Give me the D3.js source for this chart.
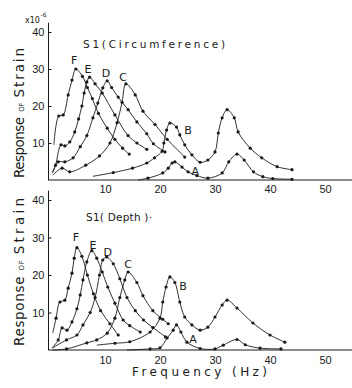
<!DOCTYPE html>
<html>
<head>
<meta charset="utf-8">
<script src="https://cdn.jsdelivr.net/npm/d3@7"></script>
<style>
  body { margin: 0; background: #fff; }
  svg { display: block; font-family: 'DejaVu Sans', sans-serif; }
</style>
</head>
<body>
<div id="chart"></div>
<script>
// [frequency Hz, strain x10^-6]
// S1 (Circumference)
const circA = [[16, 0], [17.8, 0.5], [20.5, 1.9], [21.5, 3.2], [22.2, 4.6], [22.7, 4.9], [24, 3.5], [25.1, 2.2], [26.7, 1.2], [28.7, 0.5], [31.3, 1.9], [32.5, 4.9], [34, 7], [35.3, 5.4], [37, 2.2], [38.7, 0.9], [40.5, 0.4], [44, 0.2]];
const circB = [[7.8, 1], [11.5, 2], [15, 3.2], [17.6, 4.6], [19, 6], [20.4, 7.8], [20.7, 10], [21.2, 13.5], [21.8, 15.4], [23, 14.3], [23.6, 12.2], [24.5, 9.5], [25.8, 6.8], [27.3, 4.8], [28.7, 5.4], [30, 7.6], [30.6, 12.7], [31.3, 16.8], [32.2, 19], [33.5, 16.8], [34.2, 13], [36.4, 8.6], [38.5, 6], [41.3, 3.6], [44, 2.8]];
const circC = [[0.5, 1.3], [2.2, 3.2], [3.6, 2.2], [6.5, 4], [9, 6.5], [10.9, 10], [12.2, 15.5], [13.1, 21], [13.8, 26], [15.5, 23], [16.9, 18.6], [19.1, 15], [21.3, 11], [24.5, 6.2]];
const circD = [[0.5, 2], [1.5, 4.9], [2.7, 4.9], [4.2, 6], [5.5, 9], [6.7, 12], [7.8, 16.8], [8.7, 20.8], [9.6, 24.9], [10.4, 26.8], [11.2, 25], [12.4, 22.4], [14.2, 19], [15.8, 15.7], [17.6, 12.5], [18.8, 9.8], [20.9, 7.6]];
const circE = [[0.4, 2], [1, 4], [2, 9.5], [2.7, 9.2], [3.6, 10.3], [4.5, 13], [5.2, 16.5], [5.8, 20], [6.2, 23.5], [6.7, 26.5], [7.2, 27.8], [8.2, 26], [9.5, 23.5], [11.8, 17.6], [14.2, 12], [15.8, 10], [17.6, 8.3]];
const circF = [[0.7, 9.5], [1.6, 17.3], [2.4, 17.6], [3.3, 23], [4, 27], [4.7, 30], [5.9, 28], [6.8, 25], [7.7, 22], [8.8, 18], [10.4, 14], [11.8, 11], [13.2, 8.6], [14.4, 7]];

// S1 (Depth)
const depthA = [[14, 0], [18.2, 0.3], [20, 0.6], [21.3, 3.2], [22.4, 5.3], [23, 6.7], [23.8, 4.8], [24.9, 2.1], [27.3, 0.4], [30, 0.3], [31.5, 1.3], [34, 2.8], [35.5, 1.4], [38.2, 0.5], [42, 0.3]];
const depthB = [[8.5, 1.3], [11.8, 1.8], [14.5, 2.2], [18.2, 4.8], [20, 8.5], [20.5, 12.8], [21.1, 16.8], [21.8, 19.5], [22.7, 18], [23.6, 12.8], [24.5, 8.8], [25.8, 6.7], [27.3, 5.3], [28.7, 6.1], [30, 8.8], [31.3, 12], [32.2, 13.3], [34, 11.2], [36.9, 7.2], [40, 4], [42.7, 2.1]];
const depthC = [[0.5, 0], [3, 0.3], [6.7, 1.9], [8.5, 2.7], [10.4, 4.5], [11.8, 8.5], [12.7, 14], [13.6, 18.7], [14.2, 20.8], [15.8, 18], [16.9, 14.5], [18.7, 10.5], [20.5, 8.2], [21.5, 7]];
const depthD = [[0.4, 0.5], [3, 2.7], [4.9, 4], [6, 6.7], [7.3, 10], [8.2, 14], [9, 20], [9.6, 24], [10.3, 24.8], [11.5, 23], [12.7, 19], [14, 14], [15.5, 10.5], [17, 8], [18.7, 6], [21, 3.5]];
const depthE = [[0.4, 0.5], [1.5, 2.7], [2.2, 5.9], [3.1, 5.3], [4, 7.5], [4.9, 11], [5.5, 14.7], [6, 18.7], [6.7, 23.5], [7.6, 26.5], [8.5, 24.5], [9.5, 20.8], [10.5, 16.8], [11.8, 12.5], [13.3, 8], [14.5, 6.5], [16.4, 4.8]];
const depthF = [[0.5, 4.5], [1.1, 8.5], [1.8, 12.8], [2.7, 13.3], [3.3, 16.5], [4, 20.5], [4.4, 24.5], [4.9, 27.3], [5.8, 25], [6.8, 20], [7.9, 15], [9.2, 10.5], [10.9, 7], [12.4, 4]];

const curveNames = ['A', 'B', 'C', 'D', 'E', 'F'];
const xTicks = [10, 20, 30, 40, 50];
const yTicks = [10, 20, 30, 40];

const panels = [
  {
    title: 'S1(Circumference)',
    series: [circA, circB, circC, circD, circE, circF],
    range: [180, 32],
    // label anchors in data units [Hz, strain]
    labelAt: [[26.4, 2.2], [25.1, 13.5], [13.3, 27.8], [10.2, 28.9], [6.9, 30], [4.4, 32.2]],
    titleBox: [83, 48, 142],
    yLabel: [178, 48],
  },
  {
    title: 'S1( Depth )\u00b7',
    series: [depthA, depthB, depthC, depthD, depthE, depthF],
    range: [350, 200],
    labelAt: [[26, 2.9], [24.2, 17], [14.2, 22.7], [10.5, 26.1], [7.8, 28], [4.7, 29.9]],
    titleBox: [86, 221, 66],
    yLabel: [346, 198],
  },
];

const width = 352;
const height = 388;
const ink = '#1a1a1a';

const svg = d3
  .select('#chart')
  .append('svg')
  .attr('width', width)
  .attr('height', height);

const x = d3.scaleLinear().domain([0, 50]).range([50, 325]);

panels.forEach((p, i) => {
  const y = d3.scaleLinear().domain([0, 40]).range(p.range);
  const g = svg.append('g');

  // axes lines (the scan has no frame, just the two lines)
  g.append('line')
    .attr('x1', 48).attr('x2', width)
    .attr('y1', y(0)).attr('y2', y(0))
    .attr('stroke', ink).attr('stroke-width', 1);
  g.append('line')
    .attr('x1', 48.5).attr('x2', 48.5)
    .attr('y1', y(0)).attr('y2', y(42.5))
    .attr('stroke', ink).attr('stroke-width', 1);

  const xAxis = g
    .append('g')
    .attr('transform', `translate(0,${y(0)})`)
    .call(d3.axisBottom(x).tickValues(xTicks).tickSize(0).tickPadding(i === 0 ? 5 : 6));
  xAxis.select('.domain').remove();
  xAxis.selectAll('text')
    .style('font-size', '11px')
    .attr('fill', ink);

  const yAxis = g
    .append('g')
    .attr('transform', 'translate(48.5,0)')
    .call(d3.axisLeft(y).tickValues(yTicks).tickSizeInner(-3).tickSizeOuter(0).tickPadding(4));
  yAxis.select('.domain').remove();
  yAxis.selectAll('line').attr('stroke', ink);
  yAxis.selectAll('text')
    .style('font-size', '11px')
    .attr('fill', ink);

  // y label: "Response OF Strain", rotated
  const [yStart, yEnd] = p.yLabel;
  const total = yStart - yEnd;
  const parts = [
    { t: 'Response', size: 13.5, len: total * 0.47 },
    { t: 'OF', size: 7, len: total * 0.07 },
    { t: 'Strain', size: 13.5, len: total * 0.38 },
  ];
  const gap = (total - d3.sum(parts, (d) => d.len)) / 2;
  let pos = yStart;
  parts.forEach((part) => {
    g.append('text')
      .attr('transform', `translate(24,${pos}) rotate(-90)`)
      .attr('textLength', part.len)
      .attr('lengthAdjust', 'spacing')
      .style('font-size', part.size + 'px')
      .attr('fill', ink)
      .text(part.t);
    pos -= part.len + gap;
  });

  // panel title
  g.append('text')
    .attr('x', p.titleBox[0])
    .attr('y', p.titleBox[1])
    .attr('textLength', p.titleBox[2])
    .attr('lengthAdjust', 'spacing')
    .style('font-size', '10.5px')
    .attr('fill', ink)
    .text(p.title);

  const line = d3
    .line()
    .x((d) => x(d[0]))
    .y((d) => y(d[1]))
    .curve(d3.curveCatmullRom.alpha(0.5));

  p.series.forEach((s, k) => {
    g.append('path')
      .datum(s)
      .attr('d', line)
      .attr('fill', 'none')
      .attr('stroke', ink)
      .attr('stroke-width', 0.9);

    g.selectAll(null)
      .data(s.slice(1))
      .enter()
      .append('circle')
      .attr('cx', (d) => x(d[0]))
      .attr('cy', (d) => y(d[1]))
      .attr('r', 1.6)
      .attr('fill', ink);

    g.append('text')
      .attr('x', x(p.labelAt[k][0]))
      .attr('y', y(p.labelAt[k][1]))
      .attr('text-anchor', 'middle')
      .attr('dominant-baseline', 'central')
      .style('font-size', '11px')
      .attr('fill', ink)
      .text(curveNames[k]);
  });
});

// exponent marker above the top y axis
svg.append('text')
  .attr('x', 25).attr('y', 23)
  .style('font-size', '8px')
  .attr('fill', ink)
  .text('x10');
svg.append('text')
  .attr('x', 40.5).attr('y', 17)
  .style('font-size', '6px')
  .attr('fill', ink)
  .text('-6');

svg.append('text')
  .attr('x', 132)
  .attr('y', 376)
  .attr('textLength', 135)
  .attr('lengthAdjust', 'spacing')
  .style('font-size', '12px')
  .attr('fill', ink)
  .text('Frequency (Hz)');
</script>
</body>
</html>
